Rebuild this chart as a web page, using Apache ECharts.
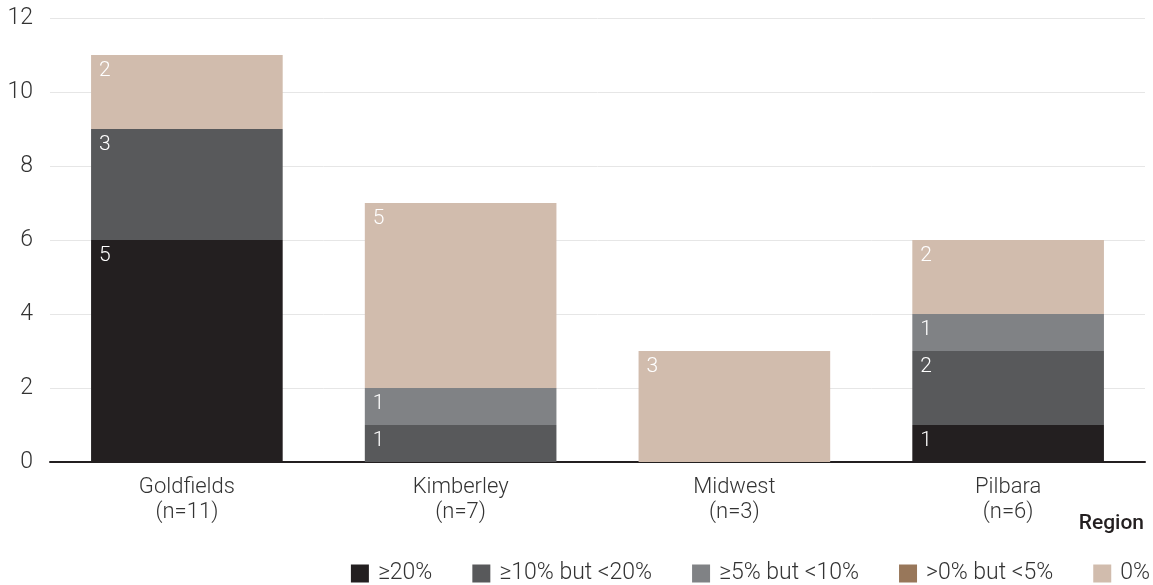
<!DOCTYPE html>
<html><head><meta charset="utf-8">
<script src="https://cdn.jsdelivr.net/npm/echarts@6/dist/echarts.min.js"></script>
<style>html,body{margin:0;padding:0;background:#fff}#c{width:1153px;height:585px}</style>
</head><body><div id="c"></div>
<script>
const categories = ['Goldfields\n(n=11)', 'Kimberley\n(n=7)', 'Midwest\n(n=3)', 'Pilbara\n(n=6)'];
const seriesNames = ['≥20%', '≥10% but <20%', '≥5% but <10%', '>0% but <5%', '0%'];
// bar segment heights as drawn
const v20 = [6, 0, 0, 1];
const v10 = [3, 1, 0, 2];
const v5 = [0, 1, 0, 1];
const v0to5 = [0, 0, 0, 0];
const vZero = [2, 5, 3, 2];
// numbers printed on the segments
const l20 = ['5', '', '', '1'];
const l10 = ['3', '1', '', '2'];
const l5 = ['', '1', '', '1'];
const l0to5 = ['', '', '', ''];
const lZero = ['2', '5', '3', '2'];
const yTicks = [0, 2, 4, 6, 8, 10, 12];

const colors = ['#231f20', '#58595b', '#808285', '#98775a', '#d1bcad'];
const values = [v20, v10, v5, v0to5, vZero];
const labels = [l20, l10, l5, l0to5, lZero];
const FONT = 'Roboto';

const chart = echarts.init(document.getElementById('c'), null, {renderer: 'canvas'});
chart.setOption({
  animation: false,
  textStyle: {fontFamily: FONT},
  grid: {left: 50, right: 8, top: 18, bottom: 123, containLabel: false},
  title: {text: 'Region', right: 9, top: 513, padding: 0, textStyle: {fontFamily: FONT, fontSize: 21, fontWeight: 500, color: '#231f20'}},
  legend: {
    top: 562, right: 3, padding: 0, itemWidth: 18, itemHeight: 18, itemGap: 40,
    icon: 'rect',
    textStyle: {fontFamily: FONT, fontSize: 23, fontWeight: 300, color: '#333', padding: [0, 0, 0, 4]},
    data: seriesNames
  },
  xAxis: {
    type: 'category', data: categories,
    axisLine: {lineStyle: {color: '#231f20', width: 2}},
    axisTick: {show: false},
    axisLabel: {fontFamily: FONT, fontSize: 22, fontWeight: 300, color: '#333', lineHeight: 25, margin: 13}
  },
  yAxis: {
    type: 'value', min: 0, max: 12, interval: 2,
    axisLine: {show: false}, axisTick: {show: false},
    splitLine: {lineStyle: {color: '#e6e6e6', width: 1}},
    axisLabel: {fontFamily: FONT, fontSize: 23, fontWeight: 300, color: '#333', margin: 17,
      formatter: v => yTicks.includes(v) ? String(v) : ''}
  },
  series: seriesNames.map((name, i) => ({
    name, type: 'bar', stack: 'total', barWidth: '70%',
    itemStyle: {color: colors[i]},
    label: {
      show: true, position: 'insideTopLeft', distance: 5, offset: [3, 0],
      color: '#fff', fontFamily: FONT, fontSize: 21, fontWeight: 300,
      formatter: p => labels[i][p.dataIndex]
    },
    data: values[i]
  }))
});
</script></body></html>
